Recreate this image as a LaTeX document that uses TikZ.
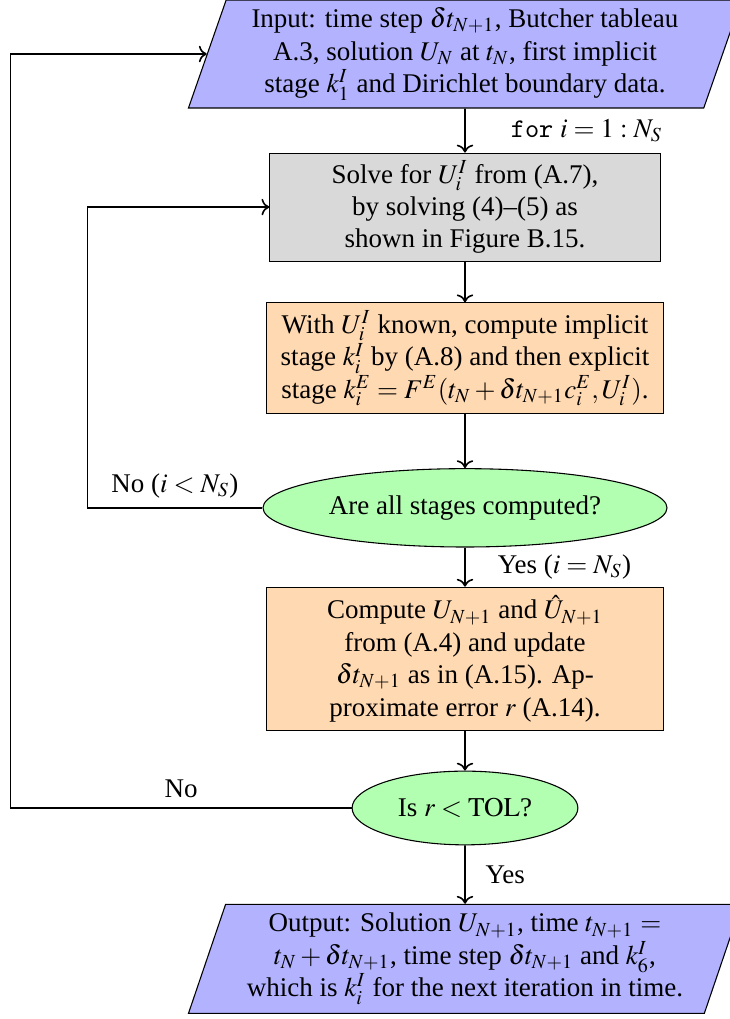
\documentclass[tikz,border=0pt]{standalone}
\usepackage{mathptmx}
\usepackage{fontspec}
\setmainfont{Liberation Serif}
\usetikzlibrary{shapes.geometric,arrows.meta,positioning}
\tikzset{
  io/.style={trapezium,trapezium left angle=70,trapezium right angle=110,
             trapezium stretches body,draw,fill=blue!30,
             align=center,inner sep=2pt,
             minimum width=7.2cm,minimum height=1.406cm},
  proc/.style={rectangle,draw,fill=#1!30,align=center,inner ysep=1.5pt,
               minimum width=5.16cm,minimum height=1.406cm},
  dec/.style={ellipse,draw,fill=green!30,align=center,inner sep=0pt},
  arr/.style={-To,semithick},
}

\begin{document}
\begin{tikzpicture}[node distance=0.55cm,font=\fontsize{10}{12}\selectfont]
  \useasboundingbox (0,0) rectangle (9.505,-13.268);

  %% -- input --------------------------------------------------------------
  \node[io] (inp) at (6.054,-0.703)
        {Input: time step $\delta t_{N+1}$, Butcher tableau\\
         A.3, solution $U_N$ at $t_N$, first implicit\\
         stage $k_1^I$ and Dirichlet boundary data.};

  %% -- stage loop ---------------------------------------------------------
  \node[proc=gray,below=0.573cm of inp,minimum width=5.08cm] (solve)
        {Solve for $U_i^I$ from (A.7),\\ by solving (4)--(5) as\\
         shown in Figure B.15.};
  \node[proc=orange,below=0.53cm of solve,minimum height=1.445cm] (stage)
        {With $U_i^I$ known, compute implicit\\
         stage $k_i^I$ by (A.8) and then explicit\\
         stage $k_i^E = F^E(t_N + \delta t_{N+1} c_i^E, U_i^I)$.};
  \node[dec,below=0.7cm of stage,minimum width=5.26cm,minimum height=1.02cm]
        (allst) {Are all stages computed?};

  %% -- update and error check ---------------------------------------------
  \node[proc=orange,below=0.51cm of allst,minimum height=1.86cm] (upd)
        {Compute $U_{N+1}$ and $\hat{U}_{N+1}$\\ from (A.4) and update\\
         $\delta t_{N+1}$ as in (A.15). Ap-\\ proximate error $r$ (A.14).};
  \node[dec,below=0.52cm of upd,minimum width=2.94cm,minimum height=0.96cm]
        (tol) {Is $r < \mathrm{TOL}$?};

  %% -- output -------------------------------------------------------------
  \node[io,below=0.76cm of tol,minimum height=1.42cm] (out)
        {Output: Solution $U_{N+1}$, time $t_{N+1}$ $=$\\
         $t_N + \delta t_{N+1}$, time step $\delta t_{N+1}$ and $k_6^I$,\\
         which is $k_i^I$ for the next iteration in time.};

  %% -- arrows down --------------------------------------------------------
  \draw[arr] (inp) -- (solve)
    node[midway,right,xshift=0.47cm]{\texttt{for} $i = 1 : N_S$};
  \draw[arr] (solve) -- (stage);
  \draw[arr] (stage) -- (allst);
  \draw[arr] (allst) -- (upd)
    node[midway,right,xshift=0.3cm]{Yes ($i = N_S$)};
  \draw[arr] (upd) -- (tol);
  \draw[arr] (tol) -- (out)
    node[midway,right,xshift=0.14cm]{Yes};

  %% -- loops back ---------------------------------------------------------
  \draw[arr] (allst.west) -- ++(-2.28,0)
    node[midway,above]{No ($i < N_S$)} |- (solve.west);
  \draw[arr] (tol.west) -- ++(-4.44,0)
    node[midway,above]{No} |- (inp.left side);

\end{tikzpicture}
\end{document}
